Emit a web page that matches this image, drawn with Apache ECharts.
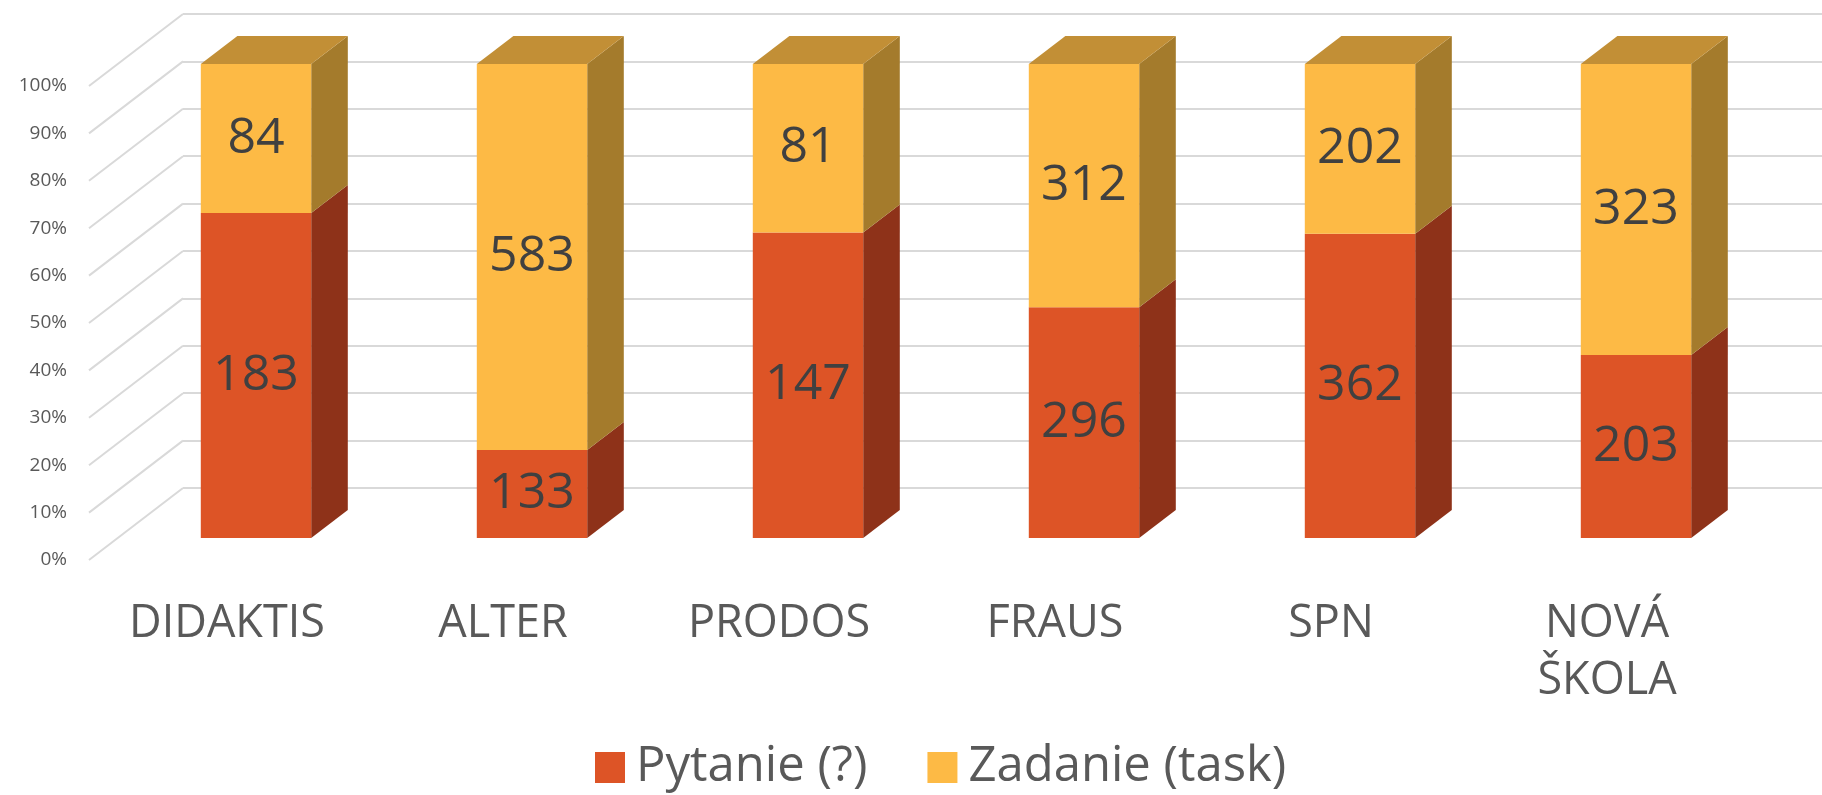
<!DOCTYPE html>
<html>
<head>
<meta charset="utf-8">
<script src="https://cdn.jsdelivr.net/npm/echarts@6/dist/echarts.min.js"></script>
<style>
  html, body { margin: 0; padding: 0; background: #fff; }
  #chart { width: 1822px; height: 795px; }
</style>
</head>
<body>
<div id="chart"></div>
<script>
// kategorie a hodnoty
var categories = ['DIDAKTIS', 'ALTER', 'PRODOS', 'FRAUS', 'SPN', 'NOVÁ\nŠKOLA'];
var pytanie = [183, 133, 147, 296, 362, 203];   // Pytanie (?)
var zadanie = [84, 583, 81, 312, 202, 323];     // Zadanie (task)
var yTicks = [0, 10, 20, 30, 40, 50, 60, 70, 80, 90, 100];

var FONT = '"Open Sans", "Noto Sans", sans-serif';
// posun do hlbky (3D)
var BAR_DX = 36.6, BAR_DY = 28;     // hlbka stlpca
var WALL_DX = 94, WALL_DY = 72;     // predok podlahy -> zadna stena

var colors = {
    red: { front: '#dd5426', side: '#8e3219', top: '#b04420' },
    yellow: { front: '#fdba45', side: '#a47b2c', top: '#c28f36' }
};

// percenta pre 100% skladany graf
var redData = [], yellowData = [];
for (var i = 0; i < categories.length; i++) {
    var total = pytanie[i] + zadanie[i];
    var p = pytanie[i] / total * 100;
    redData.push([i, 0, p, pytanie[i]]);
    yellowData.push([i, p, 100, zadanie[i]]);
}

function barRenderer(c) {
    return function (params, api) {
        var cat = api.value(0), v0 = api.value(1), v1 = api.value(2), raw = api.value(3);
        var pb = api.coord([cat, v0]), pt = api.coord([cat, v1]);
        var w = api.size([1, 0])[0] * 0.4;
        var x0 = pb[0] - w / 2, x1 = pb[0] + w / 2;
        var yb = pb[1], yt = pt[1];
        var children = [
            {
                type: 'polygon',
                shape: { points: [[x1, yb], [x1 + BAR_DX, yb - BAR_DY], [x1 + BAR_DX, yt - BAR_DY], [x1, yt]] },
                style: { fill: c.side }
            },
            {
                type: 'rect',
                shape: { x: x0, y: yt, width: w, height: yb - yt },
                style: { fill: c.front }
            }
        ];
        if (v1 >= 100) {
            children.push({
                type: 'polygon',
                shape: { points: [[x0, yt], [x0 + BAR_DX, yt - BAR_DY], [x1 + BAR_DX, yt - BAR_DY], [x1, yt]] },
                style: { fill: c.top }
            });
        }
        children.push({
            type: 'text',
            style: {
                x: pb[0], y: (yb + yt) / 2,
                text: String(raw),
                fill: '#404040',
                font: '50px ' + FONT,
                align: 'center', verticalAlign: 'middle'
            }
        });
        return { type: 'group', children: children };
    };
}

var chart = echarts.init(document.getElementById('chart'));
var option = {
    animation: false,
    color: [colors.red.front, colors.yellow.front],
    grid: [
        // predna hrana podlahy (popisy osi)
        { left: 89, right: 77, top: 86, bottom: 235 },
        // rovina stlpcov
        { left: 118, right: 48, top: 64, bottom: 257 },
        // zadna stena
        { left: 183, right: -20, top: 14, bottom: 307 }
    ],
    xAxis: [
        {
            gridIndex: 0, type: 'category', data: categories,
            axisLine: { show: false }, axisTick: { show: false },
            axisLabel: { color: '#595959', fontSize: 45, fontFamily: FONT, margin: 36, lineHeight: 57 }
        },
        { gridIndex: 1, type: 'category', data: categories, show: false },
        { gridIndex: 2, type: 'category', data: categories, show: false }
    ],
    yAxis: [
        {
            gridIndex: 0, type: 'value', min: 0, max: 100, interval: 10,
            splitLine: { show: false }, axisLine: { show: false },
            axisLabel: { color: '#595959', fontSize: 19, fontFamily: FONT, margin: 22, formatter: '{value}%' }
        },
        { gridIndex: 1, type: 'value', min: 0, max: 100, interval: 10, show: false, splitLine: { show: false } },
        {
            gridIndex: 2, type: 'value', min: 0, max: 100, interval: 10,
            axisLabel: { show: false }, axisLine: { show: false }, axisTick: { show: false },
            splitLine: { show: true, lineStyle: { color: '#d9d9d9', width: 2 } }
        }
    ],
    legend: {
        bottom: -2, left: 590,
        itemWidth: 30, itemHeight: 31, itemGap: 60,
        icon: 'rect',
        textStyle: { color: '#595959', fontSize: 49, fontFamily: FONT, padding: [0, 0, 0, 6] },
        data: ['Pytanie (?)', 'Zadanie (task)']
    },
    series: [
        {
            // diagonaly na bocnej stene
            type: 'custom', xAxisIndex: 0, yAxisIndex: 0, silent: true,
            data: yTicks.map(function (t) { return [0, t]; }),
            renderItem: function (params, api) {
                var p = api.coord([0, api.value(1)]);
                var x = p[0] - api.size([1, 0])[0] / 2;
                return {
                    type: 'line',
                    shape: { x1: x, y1: p[1], x2: x + WALL_DX, y2: p[1] - WALL_DY },
                    style: { stroke: '#d9d9d9', lineWidth: 2 }
                };
            }
        },
        {
            name: 'Pytanie (?)', type: 'custom', xAxisIndex: 1, yAxisIndex: 1,
            itemStyle: { color: colors.red.front },
            data: redData, renderItem: barRenderer(colors.red)
        },
        {
            name: 'Zadanie (task)', type: 'custom', xAxisIndex: 1, yAxisIndex: 1,
            itemStyle: { color: colors.yellow.front },
            data: yellowData, renderItem: barRenderer(colors.yellow)
        }
    ]
};
chart.setOption(option);
</script>
</body>
</html>
